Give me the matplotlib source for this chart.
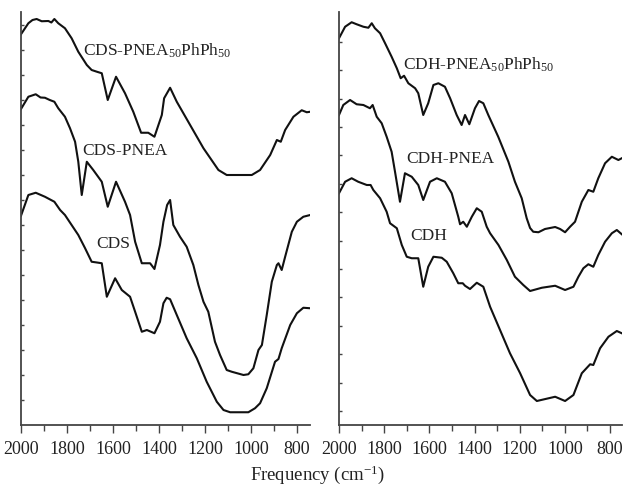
import numpy as np
import matplotlib
matplotlib.use("Agg")
import matplotlib.pyplot as plt
from matplotlib.ticker import MultipleLocator

plt.rcParams['font.family'] = ['Liberation Serif', 'DejaVu Serif']
plt.rcParams['mathtext.fontset'] = 'custom'
plt.rcParams['mathtext.rm'] = 'Liberation Serif'
plt.rcParams['mathtext.it'] = 'Liberation Serif:italic'

# ---- left panel: CDS series (wavenumber, transmittance a.u.) ----
CDS_PHPH_WN = [2000, 1968, 1950, 1932, 1910, 1881, 1868, 1855, 1838, 1809,
               1780, 1751, 1714, 1693, 1670, 1649, 1623, 1587, 1548, 1512,
               1478, 1447, 1420, 1388, 1378, 1352, 1323, 1265, 1207, 1142,
               1106, 997, 961, 917, 888, 871, 852, 816, 780, 758, 743]
CDS_PHPH_T = [15.63, 16.07, 16.2, 16.24, 16.15, 16.16, 16.1, 16.24, 16.07, 15.87,
              15.47, 14.93, 14.4, 14.2, 14.13, 14.07, 13.0, 13.93, 13.27, 12.53,
              11.69, 11.69, 11.53, 12.4, 13.07, 13.49, 12.93, 12.0, 11.07, 10.2,
              10.0, 10.0, 10.2, 10.8, 11.4, 11.33, 11.8, 12.33, 12.59, 12.51, 12.53]

CDS_PNEA_WN = [2000, 1968, 1936, 1915, 1896, 1875, 1855, 1838, 1809, 1787,
               1765, 1751, 1736, 1714, 1686, 1649, 1623, 1587, 1548, 1526,
               1504, 1475, 1439, 1420, 1396, 1381, 1365, 1352, 1338, 1309,
               1280, 1251, 1229, 1207, 1186, 1157, 1135, 1106, 1084, 1033,
               1012, 990, 968, 953, 932, 910, 888, 881, 867, 852,
               823, 801, 773, 743]
CDS_PNEA_T = [12.64, 13.13, 13.23, 13.1, 13.09, 13.0, 12.93, 12.67, 12.33, 11.87,
              11.33, 10.53, 9.2, 10.53, 10.2, 9.73, 8.73, 9.73, 8.93, 8.4,
              7.33, 6.47, 6.47, 6.24, 7.2, 8.13, 8.8, 9.0, 8.0, 7.53,
              7.13, 6.4, 5.6, 4.93, 4.53, 3.33, 2.8, 2.2, 2.13, 2.0,
              2.03, 2.27, 3.0, 3.2, 4.4, 5.73, 6.4, 6.47, 6.2, 6.73,
              7.73, 8.13, 8.33, 8.4]

CDS_WN = [2000, 1968, 1936, 1896, 1855, 1830, 1809, 1780, 1751, 1722,
          1693, 1670, 1649, 1627, 1591, 1562, 1526, 1504, 1475, 1453,
          1420, 1396, 1381, 1367, 1352, 1323, 1280, 1236, 1193, 1149,
          1120, 1091, 1012, 983, 961, 932, 896, 881, 867, 830,
          801, 773, 743]
CDS_T = [8.37, 9.2, 9.29, 9.13, 8.93, 8.6, 8.4, 8.0, 7.6, 7.08,
         6.53, 6.5, 6.47, 5.13, 5.87, 5.4, 5.13, 4.53, 3.73, 3.8,
         3.67, 4.13, 4.87, 5.09, 5.03, 4.4, 3.47, 2.67, 1.73, 0.93,
         0.6, 0.51, 0.51, 0.67, 0.87, 1.47, 2.53, 2.64, 3.07, 4.0,
         4.47, 4.69, 4.67]

# ---- right panel: CDH series ----
CDH_PHPH_WN = [2000, 1973, 1944, 1922, 1892, 1870, 1855, 1841, 1818, 1796,
               1767, 1744, 1727, 1712, 1693, 1663, 1649, 1627, 1605, 1582,
               1560, 1531, 1508, 1479, 1457, 1442, 1423, 1398, 1380, 1361,
               1339, 1295, 1250, 1221, 1191, 1169, 1154, 1140, 1117, 1088,
               1043, 1021, 999, 977, 955, 925, 896, 874, 852, 822,
               792, 763, 748]
CDH_PHPH_T = [15.47, 15.93, 16.11, 16.03, 15.93, 15.89, 16.07, 15.87, 15.67, 15.27,
              14.73, 14.27, 13.87, 13.97, 13.67, 13.47, 13.27, 12.4, 12.87, 13.6,
              13.67, 13.53, 13.07, 12.4, 12.0, 12.4, 12.03, 12.67, 12.96, 12.87,
              12.4, 11.53, 10.53, 9.73, 9.07, 8.27, 7.88, 7.73, 7.71, 7.84,
              7.92, 7.84, 7.71, 7.93, 8.13, 8.93, 9.4, 9.33, 9.87, 10.47,
              10.73, 10.6, 10.67]

CDH_PNEA_WN = [2000, 1981, 1951, 1922, 1892, 1863, 1851, 1833, 1811, 1789,
               1767, 1752, 1730, 1708, 1678, 1649, 1627, 1597, 1567, 1531,
               1501, 1472, 1464, 1450, 1434, 1412, 1390, 1368, 1346, 1331,
               1294, 1257, 1221, 1184, 1154, 1102, 1043, 999, 962, 940,
               918, 896, 874, 852, 822, 792, 770, 748]
CDH_PNEA_T = [12.4, 12.8, 13.0, 12.83, 12.8, 12.67, 12.8, 12.33, 12.07, 11.53,
              10.93, 10.13, 8.93, 10.07, 9.93, 9.6, 9.0, 9.73, 9.87, 9.73,
              9.27, 8.33, 8.03, 8.13, 7.93, 8.33, 8.67, 8.53, 7.93, 7.67,
              7.2, 6.6, 5.93, 5.6, 5.36, 5.49, 5.57, 5.4, 5.53, 5.93,
              6.27, 6.43, 6.33, 6.8, 7.33, 7.67, 7.8, 7.63]

CDH_WN = [2000, 1973, 1944, 1915, 1877, 1860, 1848, 1818, 1789, 1774,
          1744, 1722, 1700, 1678, 1649, 1627, 1605, 1582, 1545, 1523,
          1494, 1472, 1452, 1442, 1420, 1390, 1361, 1331, 1287, 1243,
          1198, 1154, 1124, 1043, 999, 962, 925, 888, 874, 844,
          807, 770, 748]
CDH_T = [9.27, 9.73, 9.87, 9.73, 9.6, 9.6, 9.4, 9.07, 8.53, 8.07,
         7.87, 7.2, 6.73, 6.67, 6.67, 5.53, 6.33, 6.73, 6.69, 6.53,
         6.07, 5.67, 5.67, 5.57, 5.44, 5.69, 5.53, 4.73, 3.8, 2.87,
         2.07, 1.2, 0.96, 1.13, 0.96, 1.2, 2.07, 2.43, 2.4, 3.07,
         3.53, 3.76, 3.67]

LABELS_L = ["CDS-PNEA$_{50}$PhPh$_{50}$", "CDS-PNEA", "CDS"]
LABELS_R = ["CDH-PNEA$_{50}$PhPh$_{50}$", "CDH-PNEA", "CDH"]
XTICKS = [2000, 1800, 1600, 1400, 1200, 1000, 800]

LINE = "#111111"
AXC = "#444444"
W, H = 630, 486

fig = plt.figure(figsize=(6.3, 4.86), dpi=100)
axl = fig.add_axes([21 / W, 61 / H, 289 / W, 413 / H])
axr = fig.add_axes([339 / W, 61 / H, 283 / W, 413 / H])


def style(ax, xmin, yticks):
    ax.set_xlim(2000, xmin)
    ax.set_ylim(0, 16.52)
    for s in ("top", "right"):
        ax.spines[s].set_visible(False)
    for s in ("left", "bottom"):
        ax.spines[s].set_color(AXC)
        ax.spines[s].set_linewidth(1.3)
    ax.set_xticks(XTICKS)
    ax.set_xticklabels([str(t) for t in XTICKS])
    ax.xaxis.set_minor_locator(MultipleLocator(100))
    ax.tick_params(axis="x", which="major", direction="out", length=5.5,
                   width=1.0, color=AXC, labelsize=13, pad=6, labelcolor="#222")
    ax.tick_params(axis="x", which="minor", direction="out", length=4,
                   width=1.0, color=AXC)
    ax.set_yticks(yticks)
    ax.set_yticklabels([])
    ax.tick_params(axis="y", direction="in", length=2.5, width=1.0, color=AXC)


style(axl, 744, np.arange(1, 17))
style(axr, 747, 0.564 + 1.136 * np.arange(14))

for wn, t in [(CDS_PHPH_WN, CDS_PHPH_T), (CDS_PNEA_WN, CDS_PNEA_T), (CDS_WN, CDS_T)]:
    axl.plot(wn, t, color=LINE, lw=1.5, solid_joinstyle="round")
for wn, t in [(CDH_PHPH_WN, CDH_PHPH_T), (CDH_PNEA_WN, CDH_PNEA_T), (CDH_WN, CDH_T)]:
    axr.plot(wn, t, color=LINE, lw=1.5, solid_joinstyle="round")

for (x, y), lab in zip([(1730, 14.77), (1735, 10.8), (1674, 7.08)], LABELS_L):
    axl.text(x, y, lab, fontsize=12.5, ha="left", va="baseline", color="#222")
for (x, y), lab in zip([(1718, 14.2), (1703, 10.47), (1686, 7.4)], LABELS_R):
    axr.text(x, y, lab, fontsize=12.5, ha="left", va="baseline", color="#222")

fig.text(317 / W, 6 / H, "Frequency (cm$^{-1}$)", ha="center", va="baseline",
         fontsize=13.5, color="#222")

fig.savefig("out.png", dpi=100)
